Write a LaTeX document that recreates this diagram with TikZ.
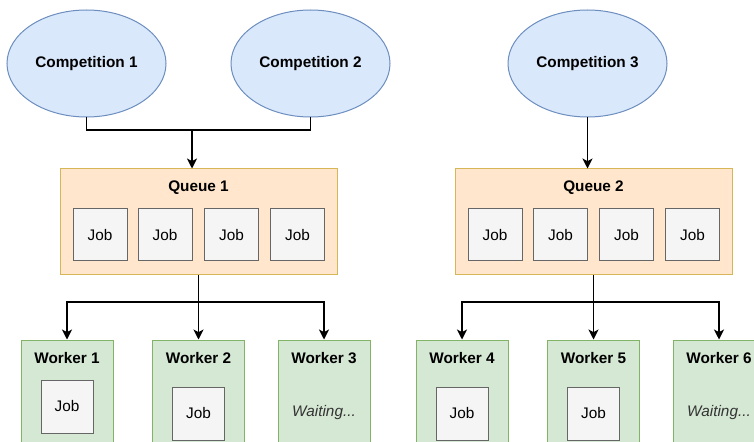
\documentclass[tikz,border=0pt]{standalone}
\usepackage{fontspec}
\setmainfont{Liberation Sans}
\usetikzlibrary{shapes.geometric,arrows.meta}
\definecolor{compfill}{HTML}{DAE8FC}
\definecolor{compline}{HTML}{6C8EBF}
\definecolor{queuefill}{HTML}{FFE6CC}
\definecolor{queueline}{HTML}{D6B656}
\definecolor{workfill}{HTML}{D5E8D4}
\definecolor{workline}{HTML}{82B366}
\definecolor{jobfill}{HTML}{F5F5F5}
\definecolor{jobline}{HTML}{666666}
\definecolor{waitcol}{HTML}{333333}
\tikzset{
  comp/.style={ellipse, draw=compline, fill=compfill, line width=0.75pt,
    minimum width=119.25pt, minimum height=80.25pt, inner sep=0pt,
    font=\fontsize{11.5}{13}\selectfont\bfseries},
  queuebox/.style={rectangle, draw=queueline, fill=queuefill, line width=0.75pt,
    minimum width=207.75pt, minimum height=79.5pt, inner sep=0pt},
  workbox/.style={rectangle, draw=workline, fill=workfill, line width=0.75pt,
    minimum width=69pt, minimum height=90pt, inner sep=0pt},
  jobbox/.style={rectangle, draw=jobline, fill=jobfill, line width=0.75pt,
    minimum width=40.5pt, minimum height=39pt, inner sep=0pt,
    font=\fontsize{11.5}{13}\selectfont},
  title/.style={inner sep=0pt, font=\fontsize{11.5}{13}\selectfont\bfseries},
  waittext/.style={inner sep=0pt, text=waitcol, font=\fontsize{11.5}{13}\selectfont\itshape},
  conn/.style={line width=0.8pt, draw=black},
  arr/.style={conn, -{Stealth[length=7.5pt,width=7.5pt,inset=2pt]}}
}
\begin{document}
\begin{tikzpicture}[x=0.75pt,y=-0.75pt]
\clip (0,0) rectangle (754,442);
\useasboundingbox (0,0) rectangle (754,442);
\fill[white] (0,0) rectangle (754,442);

% competitions
\node[comp] (c1) at (86.5,63.5) {Competition 1};
\node[comp] (c2) at (310.5,63.5) {Competition 2};
\node[comp] (c3) at (587.5,63.5) {Competition 3};

% queues
\node[queuebox] (q1) at (198.5,222) {};
\node[title] (q1t) at (198.5,188) {Queue 1};
\node[jobbox] (q1a) at (100,235) {Job};
\node[jobbox] (q1b) at (165,235) {Job};
\node[jobbox] (q1c) at (231.5,235) {Job};
\node[jobbox] (q1d) at (297.5,235) {Job};

\node[queuebox] (q2) at (593.5,222) {};
\node[title] (q2t) at (593.5,188) {Queue 2};
\node[jobbox] (q2a) at (495,235) {Job};
\node[jobbox] (q2b) at (560.5,235) {Job};
\node[jobbox] (q2c) at (626.5,235) {Job};
\node[jobbox] (q2d) at (692.5,235) {Job};

% workers
\node[workbox] (w1) at (67,400) {};
\node[title] (w1t) at (67,358) {Worker 1};
\node[jobbox, minimum width=39pt, minimum height=39.75pt] (w1j) at (67,406.5) {Job};

\node[workbox] (w2) at (198.5,400) {};
\node[title] (w2t) at (198.5,358) {Worker 2};
\node[jobbox, minimum width=39pt, minimum height=39.75pt] (w2j) at (198.5,413.5) {Job};

\node[workbox] (w3) at (324,400) {};
\node[title] (w3t) at (324,358) {Worker 3};
\node[waittext] (w3w) at (324,413) {Waiting...};

\node[workbox] (w4) at (462,400) {};
\node[title] (w4t) at (462,358) {Worker 4};
\node[jobbox, minimum width=39pt, minimum height=39.75pt] (w4j) at (462,413.5) {Job};

\node[workbox] (w5) at (593.5,400) {};
\node[title] (w5t) at (593.5,358) {Worker 5};
\node[jobbox, minimum width=39pt, minimum height=39.75pt] (w5j) at (593.5,413.5) {Job};

\node[workbox] (w6) at (719,400) {};
\node[title] (w6t) at (719,358) {Worker 6};
\node[waittext] (w6w) at (719,413) {Waiting...};

% connectors
\coordinate (j1) at (192,130);
\draw[conn] (c1.south) |- (j1) -| (c2.south);
\draw[arr] (j1) -- (j1 |- q1.north);
\draw[arr] (c3.south) -- (c3.south |- q2.north);

\coordinate (b1) at (198.5,302);
\draw[conn] (q1.south) -- (b1);
\draw[arr] (b1) -| (w1.north);
\draw[arr] (b1) -- (w2.north);
\draw[arr] (b1) -| (w3.north);

\coordinate (b2) at (593.5,302);
\draw[conn] (q2.south) -- (b2);
\draw[arr] (b2) -| (w4.north);
\draw[arr] (b2) -- (w5.north);
\draw[arr] (b2) -| (w6.north);
\end{tikzpicture}
\end{document}
